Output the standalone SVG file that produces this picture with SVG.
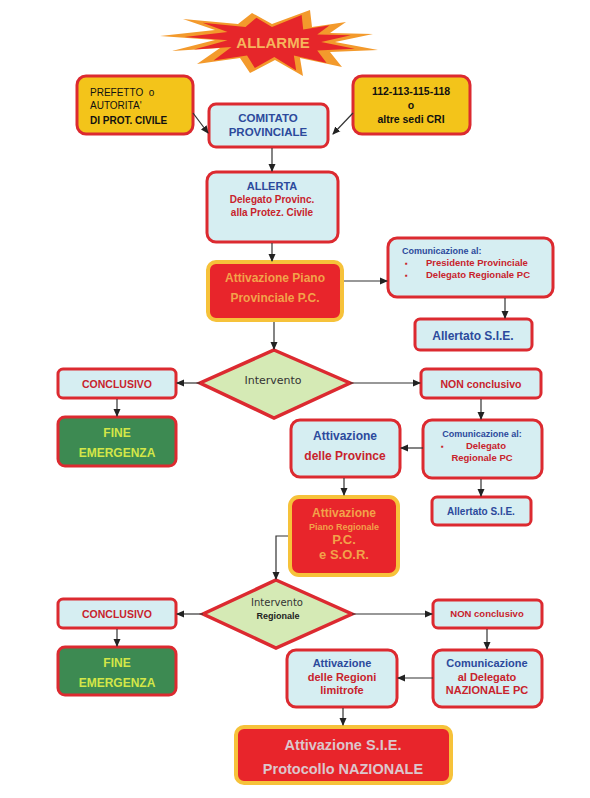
<svg xmlns="http://www.w3.org/2000/svg" width="590" height="798" viewBox="0 0 590 798">
<defs>
<marker id="ah" markerWidth="8" markerHeight="8" refX="7" refY="4" orient="auto" markerUnits="userSpaceOnUse">
<path d="M0,0.5 L8,4 L0,7.5 z" fill="#222"/>
</marker>
</defs>
<style>
text{font-family:"Liberation Sans",Arial,sans-serif;text-anchor:middle}
.cy{fill:#d6eef2;stroke:#dc2a30;stroke-width:3}
.yl{fill:#f3c41a;stroke:#dc2a30;stroke-width:3}
.rd{fill:#e8252b;stroke:#f6c23a;stroke-width:4}
.gr{fill:#3d8a52;stroke:#dc2a30;stroke-width:3}
.dm{fill:#d5eab5;stroke:#dc2a30;stroke-width:3.5;stroke-linejoin:miter}
.b{font-weight:bold}
.blue{fill:#2c4a9c}
.red{fill:#c8232c}
.org{fill:#f2a24a}
.yg{fill:#d3e648}
.blk{fill:#111}
.con line,.con polyline{stroke:#333;stroke-width:1.2;fill:none;marker-end:url(#ah)}
</style>
<rect width="590" height="798" fill="#ffffff"/>

<g id="allarme">
<polygon fill="#f39a2c" points="160,36 215,30 183,19 238,24 252,13 272,24 310,10 312,27 346,22 330,33 373,34 335,42 378,50 330,52 342,67 300,58 303,76 275,60 250,73 240,58 197,64 220,48 172,51 215,40"/>
<polygon fill="#e6262a" transform="translate(272,42) scale(0.78,0.84) translate(-272,-42)" points="160,36 215,30 183,19 238,24 252,13 272,24 310,10 312,27 346,22 330,33 373,34 335,42 378,50 330,52 342,67 300,58 303,76 275,60 250,73 240,58 197,64 220,48 172,51 215,40"/>
<text x="273" y="48" class="b" font-size="15" fill="#f6b45c">ALLARME</text>
</g>

<g id="prefetto">
<rect x="77" y="76" width="116" height="58" rx="9" class="yl"/>
<text x="90" y="96" font-size="10" class="blk" style="text-anchor:start">PREFETTO&#160; o</text>
<text x="90" y="109" font-size="10" class="blk" style="text-anchor:start">AUTORITA'</text>
<text x="90" y="124" font-size="10" class="b blk" style="text-anchor:start">DI PROT. CIVILE</text>
</g>

<g id="comitato">
<rect x="209" y="104" width="119" height="43" rx="7" class="cy"/>
<text x="268" y="122" font-size="11.5" class="b blue">COMITATO</text>
<text x="268" y="136" font-size="11.5" class="b blue">PROVINCIALE</text>
</g>

<g id="numeri">
<rect x="353" y="76" width="117" height="58" rx="9" class="yl"/>
<text x="411" y="95" font-size="10.5" class="b blk">112-113-115-118</text>
<text x="411" y="109" font-size="10.5" class="b blk">o</text>
<text x="411" y="123" font-size="10.5" class="b blk">altre sedi CRI</text>
</g>

<g id="allerta">
<rect x="207" y="172" width="131" height="70" rx="9" class="cy"/>
<text x="272" y="190" font-size="11" class="b blue">ALLERTA</text>
<text x="272" y="203" font-size="10" class="b red">Delegato Provinc.</text>
<text x="272" y="216" font-size="10" class="b red">alla Protez. Civile</text>
</g>

<g id="piano-provinciale">
<rect x="208" y="262" width="134" height="58" rx="8" class="rd"/>
<text x="275" y="282" font-size="12" class="b org">Attivazione Piano</text>
<text x="275" y="302" font-size="12" class="b org">Provinciale P.C.</text>
</g>

<g id="comunicazione1">
<rect x="388" y="238" width="165" height="59" rx="9" class="cy"/>
<text x="402" y="254" font-size="9" class="b blue" style="text-anchor:start">Comunicazione al:</text>
<text x="405" y="266" font-size="8" class="red" style="text-anchor:start">▪</text>
<text x="426" y="266" font-size="9.5" class="b red" style="text-anchor:start">Presidente Provinciale</text>
<text x="405" y="278" font-size="8" class="red" style="text-anchor:start">▪</text>
<text x="426" y="278" font-size="9.5" class="b red" style="text-anchor:start">Delegato Regionale PC</text>
</g>

<g id="allertato1">
<rect x="415" y="319" width="117" height="31" rx="5" class="cy"/>
<text x="473" y="340" font-size="12" class="b blue">Allertato S.I.E.</text>
</g>

<g id="intervento">
<polygon points="274,350 350,383 274,418 200,383" class="dm"/>
<text x="273" y="384" font-size="11" fill="#333" style="font-family:'DejaVu Sans',sans-serif">Intervento</text>
</g>

<g id="conclusivo1">
<rect x="58" y="369" width="118" height="29" rx="5" class="cy"/>
<text x="117" y="388" font-size="10.5" class="b red">CONCLUSIVO</text>
</g>

<g id="non-conclusivo1">
<rect x="421" y="369" width="120" height="29" rx="5" class="cy"/>
<text x="481" y="388" font-size="10.5" class="b red">NON conclusivo</text>
</g>

<g id="fine1">
<rect x="58" y="417" width="118" height="49" rx="7" class="gr"/>
<text x="117" y="437" font-size="12" class="b yg">FINE</text>
<text x="117" y="457" font-size="12" class="b yg">EMERGENZA</text>
</g>

<g id="province">
<rect x="291" y="420" width="109" height="57" rx="9" class="cy"/>
<text x="345" y="440" font-size="12" class="b blue">Attivazione</text>
<text x="345" y="460" font-size="12" class="b red">delle Province</text>
</g>

<g id="comunicazione2">
<rect x="423" y="420" width="119" height="58" rx="9" class="cy"/>
<text x="482" y="437" font-size="9" class="b blue">Comunicazione al:</text>
<text x="441" y="449" font-size="8" class="red" style="text-anchor:start">▪</text>
<text x="486" y="449" font-size="9.5" class="b red">Delegato</text>
<text x="482" y="461" font-size="9.5" class="b red">Regionale PC</text>
</g>

<g id="allertato2">
<rect x="432" y="497" width="99" height="28" rx="5" class="cy"/>
<text x="481" y="515" font-size="10" class="b blue">Allertato S.I.E.</text>
</g>

<g id="piano-regionale">
<rect x="290" y="497" width="108" height="78" rx="9" class="rd"/>
<text x="344" y="517" font-size="12" class="b org">Attivazione</text>
<text x="344" y="530" font-size="9" class="b org">Piano Regionale</text>
<text x="344" y="544" font-size="13" class="b org">P.C.</text>
<text x="344" y="559" font-size="13" class="b org">e S.O.R.</text>
</g>

<g id="intervento-regionale">
<polygon points="276,580 352,614 276,648 203,614" class="dm"/>
<text x="277" y="606" font-size="10" fill="#333" style="font-family:'DejaVu Sans',sans-serif">Intervento</text>
<text x="278" y="619" font-size="9" class="b" fill="#222">Regionale</text>
</g>

<g id="conclusivo2">
<rect x="58" y="599" width="118" height="29" rx="5" class="cy"/>
<text x="117" y="618" font-size="10.5" class="b red">CONCLUSIVO</text>
</g>

<g id="non-conclusivo2">
<rect x="433" y="600" width="109" height="28" rx="5" class="cy"/>
<text x="487" y="617" font-size="9.5" class="b red">NON conclusivo</text>
</g>

<g id="fine2">
<rect x="58" y="647" width="118" height="48" rx="7" class="gr"/>
<text x="117" y="667" font-size="12" class="b yg">FINE</text>
<text x="117" y="687" font-size="12" class="b yg">EMERGENZA</text>
</g>

<g id="regioni">
<rect x="287" y="650" width="110" height="57" rx="9" class="cy"/>
<text x="342" y="667" font-size="11" class="b blue">Attivazione</text>
<text x="342" y="681" font-size="11" class="b red">delle Regioni</text>
<text x="342" y="694" font-size="11" class="b red">limitrofe</text>
</g>

<g id="comunicazione3">
<rect x="433" y="650" width="109" height="57" rx="9" class="cy"/>
<text x="487" y="667" font-size="11" class="b blue">Comunicazione</text>
<text x="487" y="681" font-size="11" class="b red">al Delegato</text>
<text x="487" y="694" font-size="11" class="b red">NAZIONALE PC</text>
</g>

<g id="protocollo-nazionale">
<rect x="236" y="727" width="215" height="56" rx="8" class="rd"/>
<text x="343" y="750" font-size="14.5" class="b" fill="#dcc6cc">Attivazione S.I.E.</text>
<text x="343" y="774" font-size="14.5" class="b" fill="#dcc6cc">Protocollo NAZIONALE</text>
</g>

<g id="connectors" class="con">
<line x1="193" y1="113" x2="208" y2="133"/>
<line x1="353" y1="113" x2="333" y2="134"/>
<line x1="272" y1="148" x2="272" y2="171"/>
<line x1="272" y1="243" x2="272" y2="261"/>
<line x1="344" y1="281" x2="387" y2="281"/>
<line x1="505" y1="298" x2="505" y2="318"/>
<line x1="274" y1="322" x2="274" y2="349"/>
<line x1="200" y1="383" x2="177" y2="383"/>
<line x1="350" y1="383" x2="420" y2="383"/>
<line x1="117" y1="399" x2="117" y2="416"/>
<line x1="481" y1="399" x2="481" y2="419"/>
<line x1="423" y1="448" x2="401" y2="448"/>
<line x1="481" y1="479" x2="481" y2="496"/>
<line x1="344" y1="478" x2="344" y2="495"/>
<polyline points="288,536 276,536 276,579"/>
<line x1="203" y1="614" x2="177" y2="614"/>
<line x1="352" y1="614" x2="432" y2="614"/>
<line x1="117" y1="629" x2="117" y2="646"/>
<line x1="487" y1="629" x2="487" y2="649"/>
<line x1="433" y1="678" x2="398" y2="678"/>
<line x1="343" y1="708" x2="343" y2="725"/>
</g>
</svg>
